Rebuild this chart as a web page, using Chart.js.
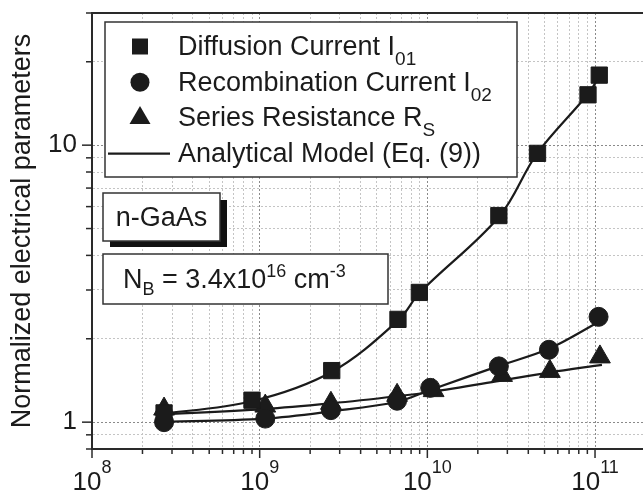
<!DOCTYPE html>
<html>
<head>
<meta charset="utf-8">
<script src="https://cdn.jsdelivr.net/npm/chart.js"></script>
<style>
  html, body { margin: 0; padding: 0; background: #fff; overflow: hidden; }
  #wrap { width: 660px; height: 495px; }
</style>
</head>
<body>
<div id="wrap"><canvas id="chart" width="660" height="495"></canvas></div>
<script>
// measured points (x: excitation, y: normalized value)
var diffX = [2.69e8, 9.0e8, 2.69e9, 6.68e9, 8.96e9, 2.67e10, 4.54e10, 9.08e10, 1.06e11];
var diffusionI01 = [1.08, 1.20, 1.535, 2.35, 2.94, 5.57, 9.34, 15.2, 17.9];
var recX = [2.69e8, 1.08e9, 2.66e9, 6.6e9, 1.04e10, 2.67e10, 5.31e10, 1.05e11];
var recombinationI02 = [1.0, 1.03, 1.105, 1.195, 1.33, 1.59, 1.825, 2.40];
var resX = [2.69e8, 1.08e9, 2.66e9, 6.6e9, 1.09e10, 2.79e10, 5.38e10, 1.07e11];
var seriesRs = [1.115, 1.143, 1.17, 1.25, 1.30, 1.475, 1.525, 1.72];

// analytical model curves
var modelX01 = [2.4e8, 9.0e8, 2.7e9, 6.7e9, 9.0e9, 2.7e10, 4.5e10, 9.0e10, 1.07e11];
var model01 = [1.065, 1.19, 1.52, 2.33, 2.93, 5.55, 9.3, 15.2, 17.8];
var modelX02 = [2.4e8, 1.07e9, 2.7e9, 6.6e9, 1.05e10, 2.7e10, 5.3e10, 1.05e11];
var model02 = [1.0, 1.03, 1.095, 1.185, 1.31, 1.6, 1.84, 2.3];
var modelXRs = [2.4e8, 1.07e9, 2.7e9, 6.6e9, 1.05e10, 2.7e10, 5.3e10, 1.1e11];
var modelRs = [1.063, 1.115, 1.17, 1.24, 1.285, 1.41, 1.51, 1.61];

// axes
var xDecades = [8, 9, 10, 11];
var yDecades = [-1, 0, 1];
var mantissas = [1, 2, 3, 4, 5, 6, 7, 8, 9];
var X_MIN = 1e8, X_MAX = 2e11, Y_MIN = 0.8, Y_MAX = 30;

var legendRows = [
  { style: 'rect', text: 'Diffusion Current I', sub: '01' },
  { style: 'circle', text: 'Recombination Current I', sub: '02' },
  { style: 'triangle', text: 'Series Resistance R', sub: 'S' },
  { style: 'line', text: 'Analytical Model (Eq. (9))', sub: '' }
];

var INK = '#1b1b1b';
var AXIS = '#2a2a2a';
var FONT = '"Liberation Sans", Arial, sans-serif';

function pts(xs, ys) {
  return xs.map(function (x, i) { return { x: x, y: ys[i] }; });
}

function logTicks(decades, lo, hi) {
  var t = [];
  decades.forEach(function (d) {
    mantissas.forEach(function (m) {
      var v = m * Math.pow(10, d);
      if (v >= lo * 0.999 && v <= hi * 1.001) t.push({ value: v, major: m === 1 });
    });
  });
  return t;
}

// text with sub/superscripts: parts = [[str, kind]] kind 0 normal, 1 sub, 2 sup
function rich(ctx, parts, x, y, size, small, subDy, supDy, center) {
  var w = 0;
  parts.forEach(function (p) {
    ctx.font = (p[1] ? small : size) + 'px ' + FONT;
    w += ctx.measureText(p[0]).width;
  });
  var cx = center ? x - w / 2 : x;
  parts.forEach(function (p) {
    ctx.font = (p[1] ? small : size) + 'px ' + FONT;
    var dy = p[1] === 1 ? subDy : (p[1] === 2 ? supDy : 0);
    ctx.fillText(p[0], cx, y + dy);
    cx += ctx.measureText(p[0]).width;
  });
}

function marker(ctx, style, x, y) {
  ctx.beginPath();
  if (style === 'rect') {
    ctx.rect(x - 8, y - 8, 16, 16);
  } else if (style === 'circle') {
    ctx.arc(x, y, 9.5, 0, Math.PI * 2);
  } else {
    ctx.moveTo(x, y - 12);
    ctx.lineTo(x + 10.5, y + 6);
    ctx.lineTo(x - 10.5, y + 6);
    ctx.closePath();
  }
  ctx.fill();
}

var decor = {
  id: 'decor',
  afterDraw: function (chart) {
    var ctx = chart.ctx, a = chart.chartArea;
    var xs = chart.scales.x, ys = chart.scales.y;
    ctx.save();

    // top / right frame
    ctx.strokeStyle = AXIS;
    ctx.lineWidth = 2;
    ctx.beginPath();
    ctx.moveTo(a.left, a.top);
    ctx.lineTo(a.right, a.top);
    ctx.lineTo(a.right, a.bottom);
    ctx.stroke();

    // outward tick marks
    ctx.lineWidth = 1.5;
    xs.ticks.forEach(function (t) {
      var px = xs.getPixelForValue(t.value);
      ctx.beginPath();
      ctx.moveTo(px, a.bottom);
      ctx.lineTo(px, a.bottom + (t.major ? 9 : 5));
      ctx.stroke();
    });
    ys.ticks.forEach(function (t) {
      var py = ys.getPixelForValue(t.value);
      ctx.beginPath();
      ctx.moveTo(a.left, py);
      ctx.lineTo(a.left - (t.major ? 10 : 6), py);
      ctx.stroke();
    });

    // x tick labels 10^n
    ctx.fillStyle = INK;
    ctx.textBaseline = 'alphabetic';
    xDecades.forEach(function (d) {
      var px = xs.getPixelForValue(Math.pow(10, d));
      rich(ctx, [['10', 0], [String(d), 2]], px, 490, 26, 18, 0, -17, true);
    });

    // legend box
    ctx.fillStyle = '#fff';
    ctx.fillRect(105, 22, 412, 155);
    ctx.strokeStyle = '#333';
    ctx.lineWidth = 1.5;
    ctx.strokeRect(105, 22, 412, 155);
    ctx.fillStyle = INK;
    ctx.strokeStyle = INK;
    legendRows.forEach(function (r, i) {
      var base = 55 + i * 35.7;
      var my = base - 8.5;
      if (r.style === 'line') {
        ctx.lineWidth = 2.2;
        ctx.beginPath();
        ctx.moveTo(108, my);
        ctx.lineTo(170, my);
        ctx.stroke();
      } else {
        marker(ctx, r.style, 140, my);
      }
      rich(ctx, [[r.text, 0], [r.sub, 1]], 178, base, 27, 19, 10, 0, false);
    });

    // n-GaAs box with shadow
    ctx.fillStyle = '#111';
    ctx.fillRect(110, 200, 117, 47);
    ctx.fillStyle = '#fff';
    ctx.fillRect(103, 193, 117, 48);
    ctx.strokeStyle = '#333';
    ctx.lineWidth = 1.5;
    ctx.strokeRect(103, 193, 117, 48);
    ctx.fillStyle = INK;
    ctx.font = '27px ' + FONT;
    ctx.textAlign = 'center';
    ctx.fillText('n-GaAs', 161.5, 226);
    ctx.textAlign = 'left';

    // doping box
    ctx.fillStyle = '#fff';
    ctx.fillRect(103, 254, 285, 50);
    ctx.strokeRect(103, 254, 285, 50);
    ctx.fillStyle = INK;
    rich(ctx, [['N', 0], ['B', 1], [' = 3.4x10', 0], ['16', 2], [' cm', 0], ['-3', 2]],
      123, 288, 27, 18, 7, -11, false);

    ctx.restore();
  }
};

var gridColor = function (c) { return c.tick && c.tick.major ? '#8a8a8a' : '#c4c4c4'; };

new Chart(document.getElementById('chart'), {
  type: 'line',
  data: {
    datasets: [
      { label: 'Diffusion Current I01', data: pts(diffX, diffusionI01), showLine: false,
        pointStyle: 'rect', pointRadius: 11.5, backgroundColor: INK, borderColor: INK, borderWidth: 1 },
      { label: 'Recombination Current I02', data: pts(recX, recombinationI02), showLine: false,
        pointStyle: 'circle', pointRadius: 9.5, backgroundColor: INK, borderColor: INK, borderWidth: 1 },
      { label: 'Series Resistance Rs', data: pts(resX, seriesRs), showLine: false,
        pointStyle: 'triangle', pointRadius: 12, backgroundColor: INK, borderColor: INK, borderWidth: 1 },
      { label: 'Model I01', data: pts(modelX01, model01), pointRadius: 0, borderColor: INK,
        borderWidth: 2.2, tension: 0.35, fill: false },
      { label: 'Model I02', data: pts(modelX02, model02), pointRadius: 0, borderColor: INK,
        borderWidth: 2.2, tension: 0.35, fill: false },
      { label: 'Model Rs', data: pts(modelXRs, modelRs), pointRadius: 0, borderColor: INK,
        borderWidth: 2.2, tension: 0.35, fill: false }
    ]
  },
  options: {
    responsive: false,
    animation: false,
    devicePixelRatio: 1,
    layout: { padding: { top: 7, right: 14.5, left: 0, bottom: 0 } },
    plugins: { legend: { display: false }, tooltip: { enabled: false } },
    scales: {
      x: {
        type: 'logarithmic',
        min: X_MIN,
        max: X_MAX,
        afterBuildTicks: function (s) { s.ticks = logTicks(xDecades, X_MIN, X_MAX); },
        afterFit: function (s) {
          s.height = 46;
          s.paddingLeft = 0; s.paddingRight = 0;
        },
        ticks: { display: false, autoSkip: false },
        grid: { color: gridColor, lineWidth: 1, drawTicks: false },
        border: { display: true, color: AXIS, width: 2, dash: [2, 2] }
      },
      y: {
        type: 'logarithmic',
        min: Y_MIN,
        max: Y_MAX,
        afterBuildTicks: function (s) { s.ticks = logTicks(yDecades, Y_MIN, Y_MAX); },
        afterFit: function (s) {
          s.width = 92;
          s.paddingTop = 0; s.paddingBottom = 0;
        },
        ticks: {
          autoSkip: false,
          padding: 15,
          color: INK,
          font: { family: FONT, size: 26 },
          callback: function (v, i, t) { return t[i].major ? String(Math.round(v)) : ''; }
        },
        title: {
          display: true,
          text: 'Normalized electrical parameters',
          color: INK,
          font: { family: FONT, size: 27 },
          padding: { top: 6, bottom: 0 }
        },
        grid: { color: gridColor, lineWidth: 1, drawTicks: false },
        border: { display: true, color: AXIS, width: 2, dash: [2, 2] }
      }
    }
  },
  plugins: [decor]
});
</script>
</body>
</html>
